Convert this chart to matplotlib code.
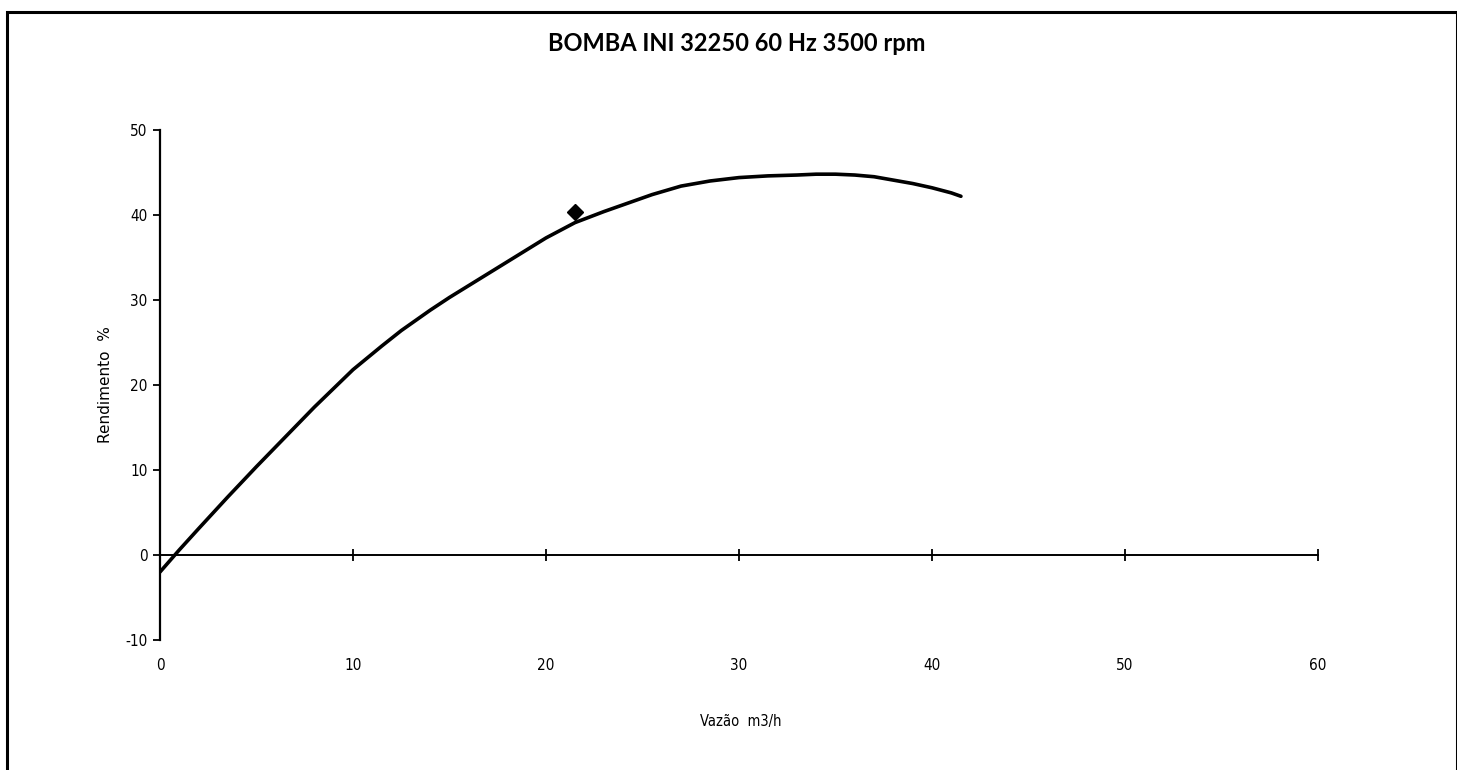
import matplotlib.pyplot as plt
from matplotlib.patches import Rectangle

plt.rcParams['axes.unicode_minus'] = False

# curve data
vazao = [0, 1, 2, 3.5, 5, 6.5, 8, 9, 10, 11.5, 12.5, 14, 15, 16.5, 17.5, 19, 20, 21.5,
         23, 24, 25.5, 27, 28.5, 30, 31.5, 33, 34, 35, 36, 37, 38, 39, 40, 41, 41.5]
rendimento = [-2.0, 0.6, 3.1, 6.8, 10.4, 13.9, 17.4, 19.6, 21.8, 24.6, 26.4, 28.8, 30.3,
              32.4, 33.8, 35.9, 37.3, 39.1, 40.4, 41.2, 42.4, 43.4, 44.0, 44.4, 44.6, 44.7,
              44.8, 44.8, 44.7, 44.5, 44.1, 43.7, 43.2, 42.6, 42.2]

# single measured point (diamond)
ponto_x = [21.5]
ponto_y = [40.4]

xticks = [0, 10, 20, 30, 40, 50, 60]
yticks = [-10, 0, 10, 20, 30, 40, 50]

narrow = ['DejaVu Sans']

fig = plt.figure(figsize=(14.57, 7.70), dpi=100)
ax = fig.add_axes([0.1098, 0.1688, 0.7948, 0.6624])

ax.plot(vazao, rendimento, color='black', lw=2.6, solid_capstyle='round')
ax.plot(ponto_x, ponto_y, marker='D', color='black', markersize=8, ls='none')

ax.set_xlim(0, 60)
ax.set_ylim(-10, 50)
ax.set_xticks(xticks)
ax.set_yticks(yticks)

# x axis drawn at zero, labels kept at the bottom of the plot
ax.spines['bottom'].set_position(('data', 0))
ax.spines['top'].set_visible(False)
ax.spines['right'].set_visible(False)
ax.spines['left'].set_linewidth(1.6)
ax.spines['bottom'].set_linewidth(1.4)
ax.tick_params(axis='x', direction='inout', length=8, width=1.3, pad=70)
ax.tick_params(axis='y', direction='out', length=5, width=1.3, pad=4)
for lab in ax.get_xticklabels() + ax.get_yticklabels():
    lab.set_family(narrow)
    lab.set_fontstretch('condensed')
    lab.set_fontsize(11)

ax.set_ylabel('Rendimento  %', fontsize=11, labelpad=9)
fig.text(0.5086, 0.0636, 'Vazão  m3/h', ha='center', va='center', fontsize=10.5,
         family=narrow, fontstretch='condensed')
fig.text(0.506, 0.943, 'BOMBA INI 32250 60 Hz 3500 rpm', ha='center', va='center',
         fontsize=17, fontweight='bold', family=['Lato', 'DejaVu Sans'])

# outer border of the scanned chart
fig.patches.append(Rectangle((0.005, -0.01), 0.995, 0.995, transform=fig.transFigure,
                             fill=False, lw=2.2, edgecolor='black'))

fig.savefig('out.png', dpi=100)
